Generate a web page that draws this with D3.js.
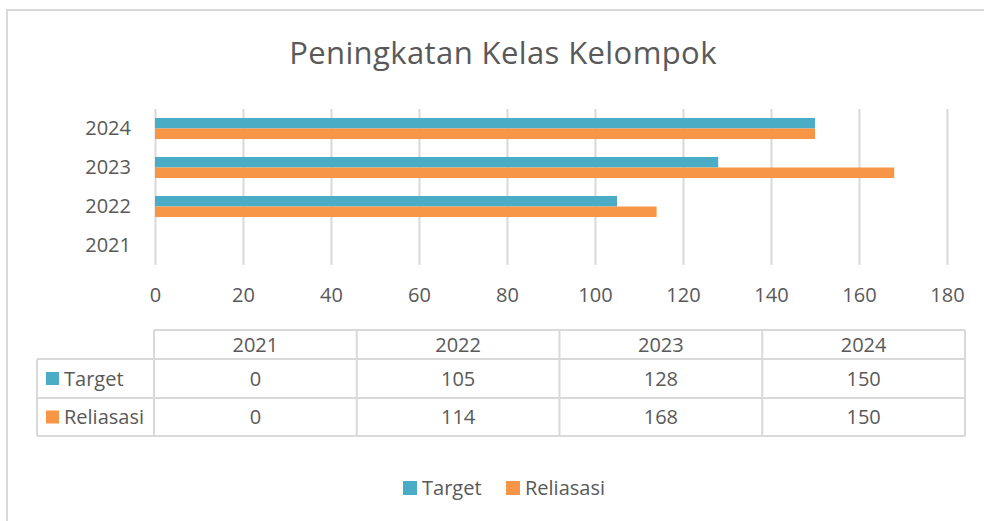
<!DOCTYPE html>
<html>
<head>
<meta charset="utf-8">
<script src="https://cdn.jsdelivr.net/npm/d3@7"></script>
<style>
  body { margin: 0; background: #fff; }
  svg { display: block; font-family: 'Open Sans', sans-serif; }
  .tick text { fill: #595959; font-size: 20px; font-family: 'Open Sans', sans-serif; }
</style>
</head>
<body>
<svg width="984" height="521"></svg>
<script>
var years = ['2021', '2022', '2023', '2024'];
var seriesNames = ['Target', 'Reliasasi'];
var target = [0, 105, 128, 150];
var realisasi = [0, 114, 168, 150];
var xTicks = [0, 20, 40, 60, 80, 100, 120, 140, 160, 180];
var colors = ['#4BACC6', '#F79646'];

var svg = d3.select('svg');
var textColor = '#595959';
var gridColor = '#d9d9d9';

// outer frame
svg.append('rect')
  .attr('x', 7).attr('y', 10)
  .attr('width', 990).attr('height', 530)
  .style('fill', 'none')
  .style('stroke', gridColor)
  .style('stroke-width', 2);

svg.append('text')
  .attr('x', 503).attr('y', 64)
  .attr('text-anchor', 'middle')
  .style('font-size', '31px')
  .style('letter-spacing', '0.4px')
  .style('fill', textColor)
  .text('Peningkatan Kelas Kelompok');

var margin = {top: 109, left: 155};
var width = 792;
var height = 156;

var rows = years.map(function (y, i) {
  return {year: y, values: [target[i], realisasi[i]]};
});

var x = d3.scaleLinear().domain([0, 180]).range([0, width]);
var y = d3.scaleBand().domain(years.slice().reverse()).range([0, height]).paddingInner(0.46).paddingOuter(0.23);
var ySub = d3.scaleBand().domain(seriesNames).range([0, y.bandwidth()]);

var container = svg.append('g')
  .attr('transform', 'translate(' + [margin.left, margin.top] + ')');

var xAxis = container.append('g')
  .attr('transform', 'translate(0,' + height + ')')
  .call(d3.axisBottom(x).tickValues(xTicks).tickSize(-height).tickPadding(18));
xAxis.select('.domain').remove();
xAxis.selectAll('line').style('stroke', gridColor).style('stroke-width', 2);
xAxis.selectAll('text').attr('dy', '0.95em');

var yAxis = container.append('g')
  .call(d3.axisLeft(y).tickSize(0).tickPadding(24));
yAxis.select('.domain').remove();

var groups = container.selectAll('.grp').data(rows).enter()
  .append('g')
  .attr('class', 'grp')
  .attr('transform', function (d) { return 'translate(0,' + y(d.year) + ')'; });

groups.selectAll('rect')
  .data(function (d) { return d.values.map(function (v, i) { return {name: seriesNames[i], v: v, c: colors[i]}; }); })
  .enter()
  .append('rect')
  .attr('x', x(0))
  .attr('y', function (d) { return ySub(d.name); })
  .attr('height', ySub.bandwidth())
  .attr('width', function (d) { return x(d.v) - x(0); })
  .style('fill', function (d) { return d.c; });

// data table
var tLeft = 37, tCol = 154, tRight = 965;
var rowY = [330, 359, 398, 436];
var col = d3.scaleBand().domain(years).range([tCol, tRight]);
var table = svg.append('g').style('stroke', gridColor).style('stroke-width', 2);

table.append('line').attr('x1', tCol).attr('x2', tRight).attr('y1', rowY[0]).attr('y2', rowY[0]);
rowY.slice(1).forEach(function (ry) {
  table.append('line').attr('x1', tLeft).attr('x2', tRight).attr('y1', ry).attr('y2', ry);
});
table.append('line').attr('x1', tLeft).attr('x2', tLeft).attr('y1', rowY[1]).attr('y2', rowY[3]);
years.forEach(function (yr) {
  table.append('line').attr('x1', col(yr)).attr('x2', col(yr)).attr('y1', rowY[0]).attr('y2', rowY[3]);
});
table.append('line').attr('x1', tRight).attr('x2', tRight).attr('y1', rowY[0]).attr('y2', rowY[3]);

svg.selectAll('.th').data(years).enter()
  .append('text')
  .attr('x', function (d) { return col(d) + col.bandwidth() / 2; })
  .attr('y', (rowY[0] + rowY[1]) / 2)
  .attr('dy', '0.35em')
  .attr('text-anchor', 'middle')
  .style('font-size', '20px')
  .style('fill', textColor)
  .text(function (d) { return d; });

[target, realisasi].forEach(function (vals, si) {
  var cy = (rowY[si + 1] + rowY[si + 2]) / 2;
  svg.append('rect')
    .attr('x', 46).attr('y', cy - 6.5)
    .attr('width', 13).attr('height', 13)
    .style('fill', colors[si]);
  svg.append('text')
    .attr('x', 64).attr('y', cy)
    .attr('dy', '0.35em')
    .style('font-size', '20px')
    .style('fill', textColor)
    .text(seriesNames[si]);
  svg.selectAll('.td' + si).data(vals).enter()
    .append('text')
    .attr('x', function (d, i) { return col(years[i]) + col.bandwidth() / 2; })
    .attr('y', cy)
    .attr('dy', '0.35em')
    .attr('text-anchor', 'middle')
    .style('font-size', '20px')
    .style('fill', textColor)
    .text(function (d) { return d; });
});

// legend
var legendX = [403, 506];
seriesNames.forEach(function (n, i) {
  svg.append('rect')
    .attr('x', legendX[i]).attr('y', 481)
    .attr('width', 14).attr('height', 14)
    .style('fill', colors[i]);
  svg.append('text')
    .attr('x', legendX[i] + 19).attr('y', 488)
    .attr('dy', '0.35em')
    .style('font-size', '20px')
    .style('fill', textColor)
    .text(n);
});
</script>
</body>
</html>
